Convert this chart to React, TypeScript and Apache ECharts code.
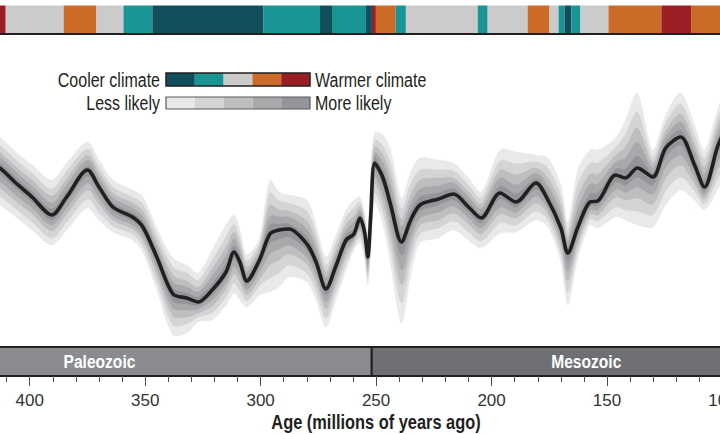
import React, { useEffect, useRef } from "react";
import * as echarts from "echarts";

// ---------- data ----------
const ages = [420, 413, 406, 399, 390.5, 384, 375, 370, 364, 355.5, 351, 345, 338, 332, 327, 321, 315, 311.5, 309, 306, 300.5, 296, 292, 287.7, 280, 276, 271.7, 267.4, 263, 259.6, 257, 255, 253.6, 252.3, 250.6, 247, 243.7, 239, 235, 231, 223, 216.5, 210, 204.5, 196.3, 189.4, 180.8, 175.6, 170, 167, 162.6, 157.4, 154, 146.2, 142, 136.9, 130.2, 124.6, 118.1, 112.1, 107.8, 102.2, 100];

const meanTemp = [30.0, 29.2, 27.7, 26.3, 24.5, 26.3, 29.0, 27.3, 25.3, 24.3, 23.3, 20.3, 16.6, 16.2, 15.8, 17.0, 18.8, 20.8, 19.8, 17.9, 20.0, 22.6, 23.0, 23.1, 21.6, 19.8, 17.1, 19.4, 22.0, 22.6, 24.2, 22.8, 20.3, 24.5, 29.7, 28.2, 25.5, 21.8, 24.0, 25.5, 26.1, 26.6, 25.3, 24.2, 26.7, 25.8, 27.7, 26.0, 23.2, 20.7, 23.3, 25.8, 25.9, 28.5, 28.2, 29.2, 28.3, 31.2, 32.3, 29.5, 27.3, 31.3, 32.5];

// upper edges of the likelihood bands (1 = most likely, 5 = least likely)
const hi1 = [30.5, 29.7, 28.2, 26.8, 25.1, 26.8, 29.4, 27.7, 25.7, 24.7, 23.8, 20.8, 17.2, 16.7, 16.3, 17.6, 19.6, 21.4, 20.3, 18.3, 20.4, 23.5, 23.6, 23.6, 22.3, 20.4, 17.6, 19.9, 22.5, 23.1, 24.5, 23.1, 20.7, 25.2, 30.2, 28.9, 26.4, 22.5, 24.8, 26.3, 26.7, 27.1, 25.8, 24.6, 27.4, 26.6, 28.1, 26.7, 23.9, 21.2, 24.2, 26.6, 26.7, 29.1, 29.1, 30.4, 28.7, 31.7, 33.0, 30.1, 27.9, 31.9, 33.1];
const hi2 = [31.1, 30.3, 28.8, 27.4, 25.7, 27.5, 30.0, 28.2, 26.2, 25.2, 24.3, 21.3, 17.8, 17.3, 16.8, 18.4, 20.4, 22.1, 20.9, 18.8, 20.7, 24.4, 24.3, 24.3, 23.1, 21.1, 18.2, 20.5, 23.0, 23.8, 24.9, 23.4, 21.2, 26.0, 30.7, 29.7, 27.4, 23.3, 25.6, 27.1, 27.4, 27.7, 26.3, 25.1, 28.2, 27.5, 28.7, 27.4, 24.7, 21.8, 25.2, 27.6, 27.6, 29.8, 30.2, 31.8, 29.2, 32.3, 33.8, 30.9, 28.6, 32.6, 33.7];
const hi3 = [31.7, 30.8, 29.3, 28.0, 26.4, 28.1, 30.5, 28.7, 26.7, 25.7, 24.9, 21.8, 18.5, 17.9, 17.3, 19.1, 21.3, 22.8, 21.5, 19.3, 21.2, 25.5, 25.0, 24.9, 23.9, 21.8, 18.8, 21.0, 23.6, 24.4, 25.3, 23.8, 21.6, 26.9, 31.3, 30.5, 28.4, 24.1, 26.5, 28.0, 28.2, 28.2, 26.8, 25.6, 29.0, 28.5, 29.2, 28.2, 25.5, 22.3, 26.3, 28.6, 28.6, 30.5, 31.3, 33.2, 29.7, 32.9, 34.6, 31.6, 29.3, 33.3, 34.4];
const hi4 = [32.4, 31.5, 30.0, 28.7, 27.1, 28.9, 31.1, 29.3, 27.3, 26.3, 25.6, 22.5, 19.3, 18.7, 18.0, 20.0, 22.3, 23.6, 22.2, 19.9, 21.7, 26.7, 25.9, 25.7, 24.9, 22.6, 19.5, 21.7, 24.3, 25.2, 25.8, 24.2, 22.2, 27.9, 32.0, 31.4, 29.6, 25.1, 27.6, 29.0, 29.0, 28.9, 27.5, 26.2, 29.9, 29.6, 29.8, 29.2, 26.4, 23.0, 27.6, 29.7, 29.7, 31.3, 32.6, 34.8, 30.3, 33.7, 35.6, 32.5, 30.1, 34.1, 35.1];
const hi5 = [33.2, 32.3, 30.8, 29.5, 28.0, 29.7, 31.8, 30.0, 28.0, 27.0, 26.3, 23.2, 20.2, 19.5, 18.7, 21.0, 23.5, 24.5, 23.0, 20.5, 22.2, 28.0, 26.8, 26.5, 26.0, 23.5, 20.3, 22.5, 25.0, 26.0, 26.3, 24.7, 22.8, 29.0, 32.7, 32.5, 31.0, 26.2, 28.8, 30.2, 30.0, 29.7, 28.2, 26.8, 31.0, 30.8, 30.5, 30.2, 27.5, 23.8, 29.0, 31.0, 31.0, 32.2, 34.0, 36.7, 31.0, 34.5, 36.7, 33.5, 31.0, 35.0, 36.0];
// lower edges
const lo1 = [29.4, 28.6, 27.2, 25.8, 24.0, 25.8, 28.4, 26.8, 24.9, 23.9, 22.9, 19.8, 15.9, 15.6, 15.5, 16.5, 18.3, 20.1, 19.2, 17.5, 19.4, 21.7, 22.1, 22.3, 21.0, 19.2, 16.5, 18.9, 21.5, 22.3, 23.8, 22.4, 19.9, 23.9, 29.1, 27.4, 24.5, 20.5, 23.1, 24.9, 25.5, 26.0, 24.8, 23.7, 26.1, 25.3, 27.1, 25.6, 22.7, 19.9, 22.8, 25.4, 25.5, 27.8, 27.5, 28.3, 27.5, 30.3, 31.5, 28.9, 26.9, 30.6, 31.8];
const lo2 = [28.7, 27.9, 26.5, 25.2, 23.5, 25.2, 27.7, 26.2, 24.4, 23.5, 22.4, 19.2, 15.2, 15.0, 15.1, 16.0, 17.7, 19.4, 18.5, 17.0, 18.8, 20.6, 21.1, 21.5, 20.3, 18.5, 15.8, 18.2, 21.0, 22.1, 23.3, 21.8, 19.3, 23.3, 28.3, 26.6, 23.5, 19.0, 22.1, 24.2, 24.8, 25.4, 24.2, 23.2, 25.3, 24.8, 26.4, 25.1, 22.0, 18.9, 22.2, 25.0, 25.0, 27.1, 26.8, 27.3, 26.6, 29.3, 30.5, 28.3, 26.5, 29.8, 31.0];
const lo3 = [28.0, 27.2, 25.9, 24.6, 22.9, 24.6, 27.0, 25.6, 24.0, 23.1, 22.0, 18.6, 14.4, 14.3, 14.7, 15.4, 17.1, 18.6, 17.8, 16.5, 18.1, 19.5, 20.0, 20.6, 19.6, 17.8, 15.1, 17.6, 20.4, 21.8, 22.9, 21.3, 18.8, 22.6, 27.6, 25.7, 22.3, 17.5, 21.1, 23.5, 24.0, 24.7, 23.6, 22.6, 24.6, 24.2, 25.7, 24.6, 21.4, 17.9, 21.7, 24.6, 24.5, 26.3, 26.0, 26.2, 25.6, 28.2, 29.5, 27.6, 26.1, 29.0, 30.1];
const lo4 = [27.1, 26.4, 25.1, 23.8, 22.2, 23.8, 26.1, 24.8, 23.4, 22.6, 21.4, 17.8, 13.5, 13.6, 14.3, 14.7, 16.3, 17.7, 16.9, 15.9, 17.4, 18.2, 18.7, 19.5, 18.7, 16.9, 14.2, 16.8, 19.7, 21.4, 22.3, 20.7, 18.2, 21.9, 26.7, 24.7, 21.0, 15.7, 19.9, 22.6, 23.2, 23.9, 22.8, 21.9, 23.7, 23.5, 24.9, 24.0, 20.6, 16.8, 21.0, 24.1, 23.9, 25.3, 25.0, 24.9, 24.5, 26.9, 28.3, 26.9, 25.6, 28.1, 29.1];
const lo5 = [26.2, 25.5, 24.3, 23.0, 21.5, 23.0, 25.2, 24.0, 22.8, 22.0, 20.8, 17.0, 12.5, 12.7, 13.8, 14.0, 15.5, 16.7, 16.0, 15.3, 16.5, 16.8, 17.3, 18.3, 17.8, 16.0, 13.3, 16.0, 19.0, 21.0, 21.7, 20.0, 17.5, 21.0, 25.7, 23.5, 19.5, 13.7, 18.5, 21.7, 22.2, 23.0, 22.0, 21.2, 22.7, 22.8, 24.0, 23.3, 19.8, 15.5, 20.2, 23.5, 23.2, 24.3, 24.0, 23.5, 23.3, 25.5, 27.0, 26.0, 25.0, 27.0, 28.0];

// climate-state bar (ages in Ma); state 0 = coolest ... 4 = warmest
const climateStart = [450, 410.4, 385.3, 371.1, 359.4, 346.9, 298.9, 274.3, 269.1, 254.4, 251.8, 250.1, 241.5, 237.1, 206.0, 201.7, 184.4, 174.9, 171.0, 168.4, 165.4, 161.5, 149.4, 126.5, 113.6];
const climateEnd = [410.4, 385.3, 371.1, 359.4, 346.9, 298.9, 274.3, 269.1, 254.4, 251.8, 250.1, 241.5, 237.1, 206.0, 201.7, 184.4, 174.9, 171.0, 168.4, 165.4, 161.5, 149.4, 126.5, 113.6, 90];
const climateState = [4, 2, 3, 2, 1, 0, 1, 0, 1, 0, 4, 3, 1, 2, 1, 2, 3, 2, 1, 0, 1, 2, 3, 4, 3];

// eras
const eraNames = ["Paleozoic", "Mesozoic"];
const eraStart = [450, 251.9];
const eraEnd = [251.9, 66];
const eraLabelAge = [369.8, 159];

// legend texts
const climateLegend = ["Cooler climate", "Warmer climate"];
const likelihoodLegend = ["Less likely", "More likely"];
const axisTitle = "Age (millions of years ago)";

// ---------- styles ----------
const climateColors = ["#124f5d", "#1a9595", "#cbcbcb", "#cc6a27", "#9b1e24"];
const likelihoodColors = ["#e8e9ea", "#d3d4d6", "#bdbec0", "#a8a9ab", "#949598"];
const eraColors = ["#8b8c8f", "#6f7073"];
const INK = "#231f20";
const FONT = "'Liberation Sans', Arial, sans-serif";
const NARROW = 0.82;
const SMOOTH = 0.3;
const GL = -85.75;
const GR = -2.5;

export default function App() {
  const ref = useRef<HTMLDivElement>(null);

  useEffect(() => {
    const chart = echarts.init(ref.current!, null, { renderer: "svg" });

    // outer (least likely) first, inner (most likely) drawn on top
    const bandLevels = [
      [hi5, lo5],
      [hi4, lo4],
      [hi3, lo3],
      [hi2, lo2],
      [hi1, lo1],
    ];
    const bandSeries: any[] = bandLevels.map(([hi, lo], k) => ({
      type: "custom",
      xAxisIndex: 0,
      yAxisIndex: 0,
      silent: true,
      clip: false,
      z: 1,
      encode: { x: 0, y: [1, 2] },
      data: ages.map((a, j) => [a, lo[j], hi[j]]),
      renderItem: (params: any, api: any) => {
        if (params.dataIndex !== 0) return null;
        const pts: number[][] = [];
        for (let j = 0; j < ages.length; j++) pts.push(api.coord([ages[j], hi[j]]));
        for (let j = ages.length - 1; j >= 0; j--) pts.push(api.coord([ages[j], lo[j]]));
        return {
          type: "polygon",
          shape: { points: pts, smooth: SMOOTH },
          style: { fill: likelihoodColors[k], stroke: likelihoodColors[k], lineWidth: 0.5 },
        };
      },
    }));

    const axisBase = { type: "value", min: 100, max: 450, inverse: true };
    const gridBase = { left: GL, right: GR, outerBoundsMode: "none", containLabel: false };

    const option: any = {
      animation: false,
      backgroundColor: "#ffffff",
      grid: [
        { ...gridBase, top: 30, height: 320 },
        { ...gridBase, top: 5.5, height: 28 },
        { ...gridBase, top: 347, height: 29 },
      ],
      xAxis: [
        { ...axisBase, gridIndex: 0, show: false },
        {
          ...axisBase, gridIndex: 1, position: "top", z: 5,
          axisLine: { show: true, lineStyle: { color: INK, width: 2 } },
          axisTick: { show: false }, axisLabel: { show: false }, splitLine: { show: false },
        },
        {
          ...axisBase, gridIndex: 1, position: "bottom", z: 5,
          axisLine: { show: true, lineStyle: { color: INK, width: 2 } },
          axisTick: { show: false }, axisLabel: { show: false }, splitLine: { show: false },
        },
        {
          ...axisBase, gridIndex: 2, position: "bottom", interval: 50, z: 5,
          axisLine: { show: true, lineStyle: { color: INK, width: 2 } },
          axisTick: { show: true, length: 10, lineStyle: { color: "#4a4a4a", width: 1 } },
          minorTick: { show: true, splitNumber: 5, length: 6, lineStyle: { color: "#4a4a4a", width: 1 } },
          axisLabel: { fontSize: 17, color: "#333", fontFamily: FONT, margin: 16, showMaxLabel: false },
          splitLine: { show: false },
        },
      ],
      yAxis: [
        { type: "value", gridIndex: 0, min: 11, max: 43, show: false },
        { type: "value", gridIndex: 1, min: 0, max: 1, show: false },
        { type: "value", gridIndex: 2, min: 0, max: 1, show: false },
      ],
      series: [
        ...bandSeries,
        {
          type: "line",
          xAxisIndex: 0,
          yAxisIndex: 0,
          symbol: "none",
          smooth: SMOOTH,
          z: 3,
          lineStyle: { color: INK, width: 3.6 },
          data: ages.map((a, j) => [a, meanTemp[j]]),
        },
        {
          type: "custom",
          xAxisIndex: 1,
          yAxisIndex: 1,
          encode: { x: [0, 1] },
          data: climateStart.map((s, i) => [s, climateEnd[i], climateState[i]]),
          renderItem: (params: any, api: any) => {
            const p0 = api.coord([api.value(0), 1]);
            const p1 = api.coord([api.value(1), 0]);
            return {
              type: "rect",
              shape: {
                x: Math.min(p0[0], p1[0]),
                y: p0[1],
                width: Math.abs(p1[0] - p0[0]),
                height: p1[1] - p0[1],
              },
              style: { fill: climateColors[api.value(2)] },
            };
          },
        },
        {
          type: "custom",
          xAxisIndex: 3,
          yAxisIndex: 2,
          encode: { x: [0, 1] },
          data: eraStart.map((s, i) => [s, eraEnd[i], eraLabelAge[i]]),
          renderItem: (params: any, api: any) => {
            const i = params.dataIndex;
            const p0 = api.coord([api.value(0), 1]);
            const p1 = api.coord([api.value(1), 0]);
            const lp = api.coord([api.value(2), 0.5]);
            return {
              type: "group",
              children: [
                {
                  type: "rect",
                  shape: {
                    x: Math.min(p0[0], p1[0]),
                    y: p0[1],
                    width: Math.abs(p1[0] - p0[0]),
                    height: p1[1] - p0[1],
                  },
                  style: { fill: eraColors[i], stroke: INK, lineWidth: 2 },
                },
                {
                  type: "text",
                  x: lp[0],
                  y: lp[1],
                  scaleX: NARROW,
                  style: {
                    text: eraNames[i],
                    fill: "#ffffff",
                    fontSize: 19,
                    fontWeight: "bold",
                    fontFamily: FONT,
                    align: "center",
                    verticalAlign: "middle",
                  },
                },
              ],
            };
          },
        },
      ],
      graphic: [
        // climate legend
        {
          type: "text", x: 160, y: 80, scaleX: NARROW, z: 10,
          style: { text: climateLegend[0], fill: INK, fontSize: 19.5, fontFamily: FONT, align: "right", verticalAlign: "middle" },
        },
        ...climateColors.map((c, i) => ({
          type: "rect", z: 10, shape: { x: 166 + i * 28.8, y: 73, width: 28.8, height: 13 }, style: { fill: c },
        })),
        { type: "rect", z: 11, shape: { x: 166, y: 73, width: 144, height: 13 }, style: { fill: "none", stroke: INK, lineWidth: 1.5 } },
        {
          type: "text", x: 315, y: 80, scaleX: NARROW, z: 10,
          style: { text: climateLegend[1], fill: INK, fontSize: 19.5, fontFamily: FONT, align: "left", verticalAlign: "middle" },
        },
        // likelihood legend
        {
          type: "text", x: 160, y: 103.5, scaleX: NARROW, z: 10,
          style: { text: likelihoodLegend[0], fill: INK, fontSize: 19.5, fontFamily: FONT, align: "right", verticalAlign: "middle" },
        },
        ...likelihoodColors.map((c, i) => ({
          type: "rect", z: 10, shape: { x: 166 + i * 28.8, y: 97, width: 28.8, height: 12 }, style: { fill: c },
        })),
        { type: "rect", z: 11, shape: { x: 166, y: 97, width: 144, height: 12 }, style: { fill: "none", stroke: "#5a5a5a", lineWidth: 1.2 } },
        {
          type: "text", x: 315, y: 103.5, scaleX: NARROW, z: 10,
          style: { text: likelihoodLegend[1], fill: INK, fontSize: 19.5, fontFamily: FONT, align: "left", verticalAlign: "middle" },
        },
        // axis title
        {
          type: "text", x: 376, y: 422, scaleX: NARROW, z: 10,
          style: { text: axisTitle, fill: INK, fontSize: 20, fontWeight: "bold", fontFamily: FONT, align: "center", verticalAlign: "middle" },
        },
      ],
    };

    chart.setOption(option);
    return () => chart.dispose();
  }, []);

  return (
    <div
      ref={ref}
      style={{ position: "fixed", left: 0, top: 0, width: 720, height: 434, background: "#fff" }}
    />
  );
}
